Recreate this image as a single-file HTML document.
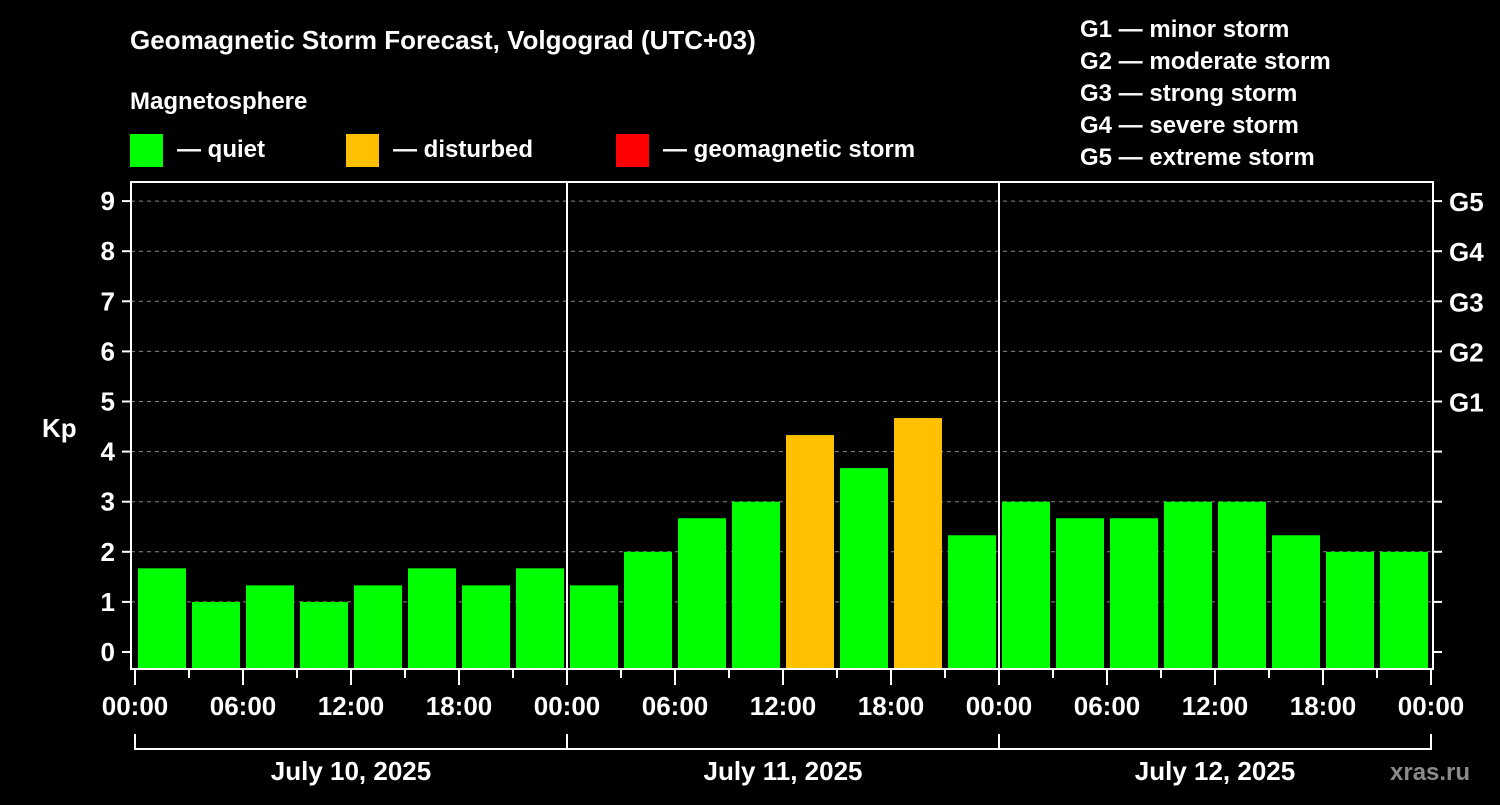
<!DOCTYPE html>
<html><head><meta charset="utf-8"><style>
body{margin:0;background:#000;width:1500px;height:800px;overflow:hidden}
svg text{font-family:"Liberation Sans",sans-serif;font-weight:bold;fill:#fff}
</style></head><body>
<svg id="c" width="1500" height="800" xmlns="http://www.w3.org/2000/svg">
<text x="130" y="49" font-size="26">Geomagnetic Storm Forecast, Volgograd (UTC+03)</text>
<text x="130" y="109" font-size="24">Magnetosphere</text>
<rect x="130" y="134" width="33" height="33" fill="#00ff00"/>
<text x="177" y="157" font-size="24">— quiet</text>
<rect x="346" y="134" width="33" height="33" fill="#ffc000"/>
<text x="393" y="157" font-size="24">— disturbed</text>
<rect x="616" y="134" width="33" height="33" fill="#ff0000"/>
<text x="663" y="157" font-size="24">— geomagnetic storm</text>
<g font-size="24">
<text x="1080" y="37">G1 — minor storm</text>
<text x="1080" y="69">G2 — moderate storm</text>
<text x="1080" y="101">G3 — strong storm</text>
<text x="1080" y="133">G4 — severe storm</text>
<text x="1080" y="165">G5 — extreme storm</text>
</g>
<text x="42" y="437" font-size="26">Kp</text>
<text x="1390" y="780" font-size="24" fill="#888" style="fill:#8a8a8a">xras.ru</text>
<g id="plot"></g>
</svg>
<script>
const values=[1.67,1,1.33,1,1.33,1.67,1.33,1.67, 1.33,2,2.67,3,4.33,3.67,4.67,2.33, 3,2.67,2.67,3,3,2.33,2,2];
const yTicks=[0,1,2,3,4,5,6,7,8,9];
const gLabels=["G1","G2","G3","G4","G5"];
const xLabels=["00:00","06:00","12:00","18:00","00:00","06:00","12:00","18:00","00:00","06:00","12:00","18:00","00:00"];
const days=["July 10, 2025","July 11, 2025","July 12, 2025"];
const L=131,R=1433,T=182,B=669,X0=135,barW=54;
const y=v=>652-50.1*v;
const x=i=>X0+barW*i;
const NS="http://www.w3.org/2000/svg";
const P=document.getElementById('plot');
function mk(t,a){const e=document.createElementNS(NS,t);for(const k in a)e.setAttribute(k,a[k]);P.appendChild(e);return e;}
yTicks.forEach(v=>{
 if(v>0){const g=mk('line',{x1:L,x2:R,y1:y(v),y2:y(v),stroke:'#888','stroke-width':1,'stroke-dasharray':'4,4'});
 
 }
 const t=mk('line',{x1:L-9,x2:L,y1:y(v),y2:y(v),stroke:'#fff','stroke-width':2});
 
 
 const rt=mk('line',{x1:R,x2:R+9,y1:y(v),y2:y(v),stroke:'#fff','stroke-width':2});
 
 
 const l=mk('text',{x:L-16,y:y(v)+9,'font-size':26,'text-anchor':'end'});l.textContent=v;
 
 
});
gLabels.forEach((g,i)=>{const l=mk('text',{x:R+16,y:y(5+i)+10,'font-size':26});l.textContent=g;
 
 });
values.forEach((v,i)=>{const r=mk('rect',{x:x(i)+3,y:y(v),width:barW-6,height:B-1-y(v),fill:v>=4?(v>=5?'#ff0000':'#ffc000'):'#00ff00'});
 
 });
[1,2].forEach(d=>{const s=mk('line',{x1:x(d*8),x2:x(d*8),y1:T,y2:B,stroke:'#fff','stroke-width':2});
 
 });
const f=mk('rect',{x:L,y:T,width:R-L,height:B-T,fill:'none',stroke:'#fff','stroke-width':2});


for(let i=0;i<=24;i++){const t=mk('line',{x1:x(i),x2:x(i),y1:B,y2:B+(i%2?9:16),stroke:'#fff','stroke-width':2});
 
 }
xLabels.forEach((s,i)=>{const l=mk('text',{x:x(i*2),y:715,'font-size':26,'text-anchor':'middle'});l.textContent=s;
 
 });
const br=mk('path',{d:`M${x(0)} 734V749H${x(24)}V734 M${x(8)} 734V749 M${x(16)} 734V749`,stroke:'#fff','stroke-width':2,fill:'none'});


days.forEach((d,i)=>{const l=mk('text',{x:x(i*8+4),y:780,'font-size':26,'text-anchor':'middle'});l.textContent=d;
 
 });
</script>
</body></html>
